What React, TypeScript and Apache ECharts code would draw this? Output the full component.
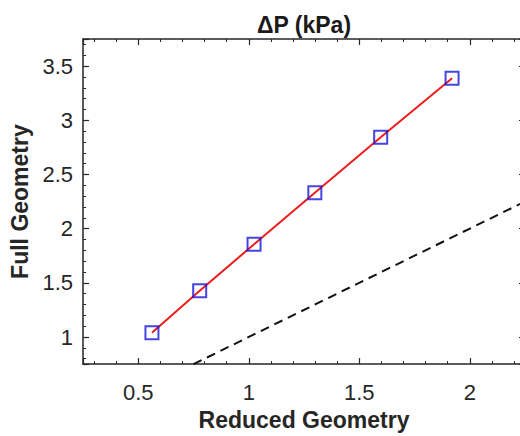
import React, { useEffect, useRef } from "react";
import * as echarts from "echarts";

const reducedGeometry = [0.562, 0.778, 1.024, 1.299, 1.597, 1.92];
const fullGeometry = [1.039, 1.426, 1.856, 2.331, 2.843, 3.388];
const identityLine = [0.75, 2.25];
const titleText = "ΔP (kPa)";
const xName = "Reduced Geometry";
const yName = "Full Geometry";

const FONT = "'Liberation Sans', Arial, Helvetica, sans-serif";
const AXIS_COLOR = "#262626";

export default function App() {
  const ref = useRef<HTMLDivElement>(null);
  useEffect(() => {
    if (!ref.current) return;
    const chart = echarts.init(ref.current, null, { renderer: "svg" });
    const pts = reducedGeometry.map((x, i) => [x, fullGeometry[i]]);
    const idPts = identityLine.map((v) => [v, v]);
    const axisCommon = {
      axisLine: { show: true, onZero: false, lineStyle: { color: AXIS_COLOR, width: 1.5 } },
      axisTick: { show: true, inside: true, length: 6, lineStyle: { color: AXIS_COLOR, width: 1.2 } },
      minorTick: { show: true, splitNumber: 5, length: 3, lineStyle: { color: AXIS_COLOR, width: 1 } },
      splitLine: { show: false },
      minorSplitLine: { show: false },
    };
    chart.setOption({
      animation: false,
      backgroundColor: "#ffffff",
      title: {
        text: titleText,
        left: "center",
        top: 8,
        textStyle: { fontFamily: FONT, fontSize: 23, fontWeight: "bold", color: "#1a1a1a" },
      },
      grid: { left: 83, right: 83, top: 39, bottom: 68, containLabel: false },
      xAxis: [
        {
          type: "value",
          min: 0.25,
          max: 2.25,
          position: "bottom",
          name: xName,
          nameLocation: "middle",
          nameGap: 40,
          nameTextStyle: { fontFamily: FONT, fontSize: 23, fontWeight: "bold", color: "#262626" },
          axisLabel: {
            showMinLabel: false,
            showMaxLabel: false,
            margin: 17,
            fontFamily: FONT,
            fontSize: 22,
            color: "#262626",
          },
          ...axisCommon,
        },
        {
          type: "value",
          min: 0.25,
          max: 2.25,
          position: "top",
          axisLabel: { show: false },
          ...axisCommon,
        },
      ],
      yAxis: [
        {
          type: "value",
          min: 0.75,
          max: 3.75,
          position: "left",
          name: yName,
          nameLocation: "middle",
          nameGap: 47,
          nameTextStyle: { fontFamily: FONT, fontSize: 23, fontWeight: "bold", color: "#262626" },
          axisLabel: {
            showMinLabel: false,
            showMaxLabel: false,
            margin: 10,
            fontFamily: FONT,
            fontSize: 22,
            color: "#262626",
          },
          ...axisCommon,
        },
        {
          type: "value",
          min: 0.75,
          max: 3.75,
          position: "right",
          axisLabel: { show: false },
          ...axisCommon,
        },
      ],
      series: [
        {
          type: "line",
          data: idPts,
          showSymbol: false,
          symbol: "none",
          lineStyle: { color: "#111111", width: 2, type: [9, 6] },
          z: 2,
        },
        {
          type: "line",
          data: pts,
          showSymbol: false,
          symbol: "none",
          lineStyle: { color: "#ee1c1c", width: 2 },
          z: 3,
        },
        {
          type: "scatter",
          data: pts,
          symbol: "rect",
          symbolSize: 13,
          itemStyle: { color: "rgba(0,0,0,0)", borderColor: "#1616d8", borderWidth: 2 },
          z: 4,
        },
      ],
    });
    return () => chart.dispose();
  }, []);
  return (
    <div
      style={{
        position: "fixed",
        left: 0,
        top: 0,
        width: 520,
        height: 436,
        overflow: "hidden",
        background: "#fff",
      }}
    >
      <div ref={ref} style={{ width: 608, height: 436 }} />
    </div>
  );
}
